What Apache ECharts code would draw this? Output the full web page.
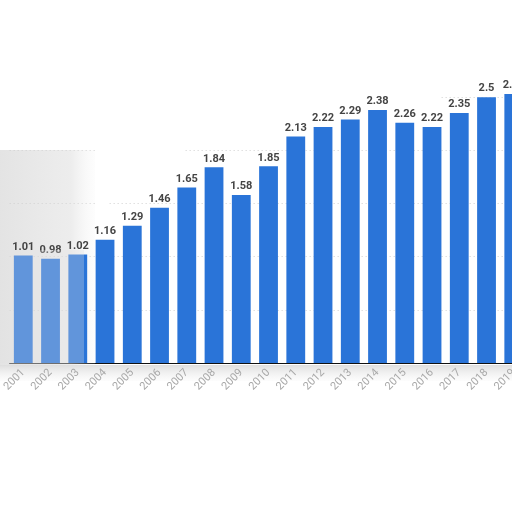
<!DOCTYPE html>
<html>
<head>
<meta charset="utf-8">
<script src="https://cdn.jsdelivr.net/npm/echarts@6/dist/echarts.min.js"></script>
<style>html,body{margin:0;padding:0;background:#fff;overflow:hidden;width:512px;height:512px}#c{width:540px;height:512px}</style>
</head>
<body>
<div id="c"></div>
<script>
var years = ['2001','2002','2003','2004','2005','2006','2007','2008','2009','2010','2011','2012','2013','2014','2015','2016','2017','2018','2019'];
var values = [1.01,0.98,1.02,1.16,1.29,1.46,1.65,1.84,1.58,1.85,2.13,2.22,2.29,2.38,2.26,2.22,2.35,2.5,2.53];
var yTicks = [0,0.5,1,1.5,2,2.5,3];

var chart = echarts.init(document.getElementById('c'));
chart.setOption({
  animation:false,
  backgroundColor:'#ffffff',
  grid:{left:1.4, top:44, width:526, height:319, containLabel:false},
  graphic:[
    {type:'polygon', z:1, silent:true,
     shape:{points:[[0,0],[540,0],[540,76],[470,80],[445,88],[440,100],[360,100],[330,104],[300,112],[276,122],[270,150],[245,146],[190,146],[165,166],[135,186],[105,206],[95,212],[95,150],[0,150]]},
     style:{fill:'#ffffff'}},
    {type:'rect', z:1, silent:true,
     shape:{x:0,y:150,width:95,height:215},
     style:{fill:{type:'linear',x:0,y:0,x2:1,y2:0,colorStops:[
       {offset:0,color:'rgba(205,205,205,0.55)'},{offset:0.75,color:'rgba(215,215,215,0.45)'},{offset:1,color:'rgba(235,235,235,0.1)'}]}}},
    {type:'rect', z:10, silent:true,
     shape:{x:0,y:250,width:84,height:113},
     style:{fill:'rgba(225,225,225,0.3)'}},
    {type:'rect', z:0, silent:true,
     shape:{x:0,y:365,width:540,height:16},
     style:{fill:{type:'linear',x:0,y:0,x2:0,y2:1,colorStops:[
       {offset:0,color:'rgba(200,200,200,0.6)'},{offset:1,color:'rgba(230,230,230,0.1)'}]}}}
  ],
  xAxis:{
    type:'category', data:years,
    axisLine:{lineStyle:{color:'#111',width:1.2}},
    axisTick:{show:false},
    axisLabel:{rotate:45, color:'#a8a8a8', fontSize:11, fontFamily:'Roboto', margin:8, interval:0}
  },
  yAxis:{
    type:'value', min:yTicks[0], max:yTicks[yTicks.length-1], interval:0.5,
    axisLabel:{show:false}, axisLine:{show:false}, axisTick:{show:false},
    splitLine:{lineStyle:{color:'#d0d0d0',type:[1,3],width:1}}
  },
  series:[{
    type:'bar', data:values, barWidth:'69%',
    itemStyle:{color:'#2a74d8'},
    label:{show:true, position:'top', distance:3, color:'#444', fontSize:11, fontWeight:'bold', fontFamily:'Roboto'}
  }]
});
</script>
</body>
</html>
